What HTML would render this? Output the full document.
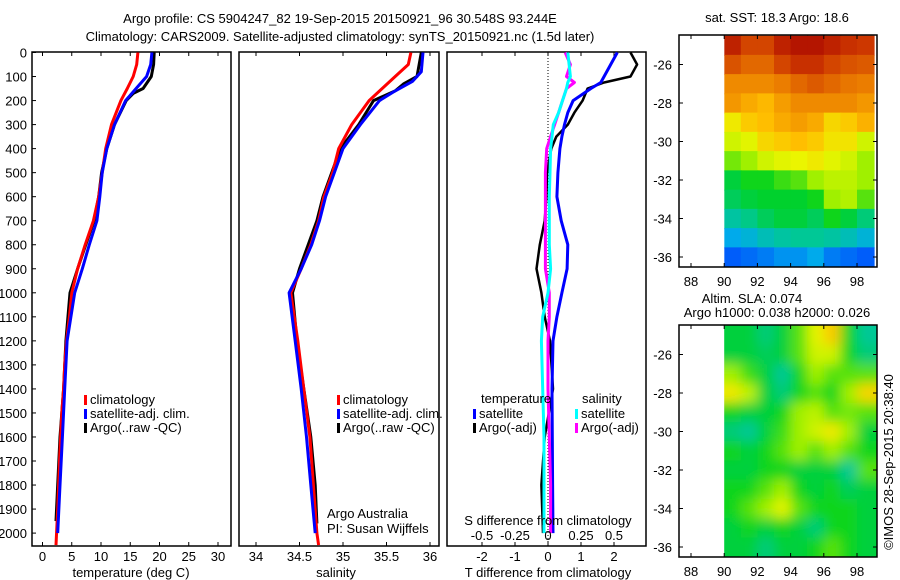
<!DOCTYPE html>
<html><head><meta charset="utf-8"><style>
body{margin:0;background:#fff;}
svg{display:block;font-family:"Liberation Sans",sans-serif;}
text{fill:#000;font-size:13px;}
</style></head><body>
<svg id="c" width="900" height="580" viewBox="0 0 900 580">
<text x="340" y="23" text-anchor="middle" font-size="14">Argo profile: CS 5904247_82 19-Sep-2015 20150921_96 30.548S 93.244E</text>
<text x="340" y="41" text-anchor="middle" font-size="14">Climatology: CARS2009. Satellite-adjusted climatology: synTS_20150921.nc (1.5d later)</text>
<g id="p1"></g>
<g id="p2"></g>
<g id="p3"></g>
<g id="m1"></g>
<g id="m2"></g>
<text x="777" y="22" text-anchor="middle" font-size="12">sat. SST: 18.3 Argo: 18.6</text>
<text x="752" y="303" text-anchor="middle" font-size="12">Altim. SLA: 0.074</text>
<text x="777" y="317" text-anchor="middle" font-size="12">Argo h1000: 0.038 h2000: 0.026</text>
<text transform="translate(893,462) rotate(-90)" text-anchor="middle" font-size="12">©IMOS 28-Sep-2015 20:38:40</text>
</svg>
<script>
// ---- profile data (depth in m) ----
const depthT_clim=[0,50,100,150,200,300,400,500,600,700,800,900,1000,1100,1200,1300,1400,1500,1700,1900,2050];
const temp_clim=[16.3,16.1,15.5,14.5,13.4,11.8,10.8,10.2,9.6,8.7,7.3,6.0,5.0,4.6,4.1,3.8,3.6,3.3,2.9,2.6,2.3];
const depthT_sat=[0,50,100,150,200,300,400,500,600,700,800,900,1000,1200,1400,1600,1800,2000];
const temp_sat=[18.7,18.5,17.8,16.0,14.2,12.3,11.0,10.2,9.8,9.3,8.0,6.8,5.5,4.2,3.8,3.4,3.0,2.6];
const depthT_argo=[0,50,100,150,170,200,300,400,500,600,700,800,900,1000,1200,1400,1600,1800,1950];
const temp_argo=[19.1,19.0,18.6,17.2,15.5,14.3,12.3,11.0,10.1,9.6,8.8,7.4,6.0,4.7,4.0,3.6,3.0,2.6,2.3];
const depthS_clim=[0,50,100,150,200,300,400,500,600,700,800,900,1000,1200,1400,1600,1800,2000,2050];
const sal_clim=[35.78,35.75,35.6,35.45,35.3,35.1,34.95,34.88,34.78,34.72,34.63,34.52,34.4,34.48,34.55,34.62,34.66,34.7,34.72];
const depthS_sat=[0,80,120,160,200,300,400,500,600,700,800,900,1000,1200,1400,1600,1800,2000];
const sal_sat=[35.92,35.9,35.8,35.6,35.42,35.2,35.0,34.9,34.8,34.73,34.64,34.52,34.38,34.45,34.52,34.58,34.63,34.68];
const depthS_argo=[0,100,130,160,200,300,400,500,600,700,800,900,1000,1200,1400,1600,1800,1960];
const sal_argo=[35.9,35.85,35.7,35.6,35.35,35.18,34.97,34.87,34.77,34.7,34.6,34.5,34.42,34.47,34.55,34.63,34.68,34.7];
// differences
const depthD=[0,50,100,125,150,200,250,300,350,400,500,600,700,800,900,1000,1100,1200,1400,1600,1800,2000];
const dT_sat=[2.1,1.9,1.7,1.6,1.3,0.76,0.6,0.5,0.42,0.36,0.3,0.27,0.4,0.6,0.58,0.42,0.27,0.15,0.12,0.13,0.14,0.15];
const dT_argo=[2.5,2.7,2.5,1.7,1.2,1.05,0.8,0.6,0.25,0.1,-0.03,-0.05,-0.1,-0.25,-0.35,-0.2,-0.1,0.06,0.15,-0.1,-0.2,-0.15];
const dS_sat=[0.15,0.16,0.17,0.15,0.14,0.11,0.08,0.04,0.03,0.02,0.015,0.01,0.01,0.01,0.02,0,-0.04,-0.05,-0.04,-0.03,-0.03,-0.03];
const dS_argo=[0.13,0.17,0.14,0.2,0.14,0.11,0.08,0.05,0.02,-0.01,-0.02,-0.02,-0.02,-0.02,-0.02,0.01,0.01,0.0,0.0,0.01,0.02,0.02];
const depthTicks=[0,100,200,300,400,500,600,700,800,900,1000,1100,1200,1300,1400,1500,1600,1700,1800,1900,2000];
const tempTicks=[0,5,10,15,20,25,30];
const salTicks=[34,34.5,35,35.5,36];
const dTTicks=[-2,-1,0,1,2];
const dSTicks=[-0.5,-0.25,0,0.25,0.5];
const dSTickLabels=["-0.5","-0.25","0","0.25","0.5"];
// ---- map data: rows = lat -25..-36 (1 deg), cols = lon 90.5..98.5 ----
const mapLats=[-25,-26,-27,-28,-29,-30,-31,-32,-33,-34,-35,-36];
const mapLons=[90.5,91.5,92.5,93.5,94.5,95.5,96.5,97.5,98.5];
const sstGrid=[
[0.95,0.9,0.9,0.95,0.97,0.97,0.95,0.93,0.92],
[0.88,0.85,0.85,0.9,0.93,0.93,0.9,0.88,0.87],
[0.8,0.8,0.8,0.82,0.85,0.87,0.85,0.83,0.82],
[0.78,0.75,0.73,0.77,0.8,0.8,0.8,0.8,0.78],
[0.65,0.7,0.72,0.75,0.77,0.75,0.68,0.7,0.74],
[0.6,0.62,0.68,0.7,0.72,0.7,0.66,0.66,0.6],
[0.52,0.55,0.6,0.62,0.63,0.65,0.62,0.6,0.55],
[0.42,0.45,0.45,0.48,0.5,0.55,0.58,0.58,0.55],
[0.4,0.42,0.43,0.43,0.43,0.45,0.55,0.57,0.5],
[0.35,0.37,0.4,0.42,0.42,0.4,0.45,0.42,0.38],
[0.28,0.3,0.33,0.35,0.36,0.36,0.35,0.33,0.3],
[0.18,0.2,0.22,0.25,0.25,0.28,0.22,0.2,0.18]];
const slaGrid=[
[0.42,0.42,0.38,0.42,0.5,0.62,0.7,0.45,0.36],
[0.42,0.42,0.40,0.42,0.5,0.6,0.6,0.45,0.38],
[0.55,0.48,0.42,0.36,0.45,0.55,0.5,0.5,0.5],
[0.65,0.58,0.42,0.38,0.45,0.5,0.45,0.55,0.68],
[0.45,0.42,0.42,0.45,0.55,0.58,0.5,0.52,0.5],
[0.38,0.36,0.42,0.48,0.55,0.6,0.65,0.55,0.42],
[0.45,0.42,0.45,0.5,0.55,0.5,0.55,0.5,0.45],
[0.42,0.42,0.45,0.45,0.42,0.42,0.42,0.36,0.5],
[0.45,0.45,0.5,0.55,0.45,0.42,0.45,0.4,0.42],
[0.45,0.5,0.55,0.62,0.5,0.45,0.45,0.45,0.42],
[0.42,0.45,0.42,0.45,0.42,0.38,0.45,0.45,0.42],
[0.42,0.42,0.38,0.42,0.42,0.45,0.5,0.45,0.42]];
const latTicks=[-26,-28,-30,-32,-34,-36];
const lonTicks=[88,90,92,94,96,98];

const NS="http://www.w3.org/2000/svg";
function mk(parent,tag,attrs,txt){const e=document.createElementNS(NS,tag);for(const k in attrs)e.setAttribute(k,attrs[k]);if(txt!==undefined)e.textContent=txt;parent.appendChild(e);return e;}
const yD=d=>52.5+d*0.2403;
const xT=v=>42.5+v*5.85;
const xS=v=>256+(v-34)*87;
const xDT=v=>548+v*33;
const xDS=v=>548+v*132;
function frame(g,x0,x1){mk(g,'rect',{x:x0,y:52,width:x1-x0,height:494,fill:'none',stroke:'#000','stroke-width':1.5});}
function line(g,xs,ds,sx,color,w,name){
  const pts=xs.map((v,i)=>sx(v).toFixed(1)+','+yD(ds[i]).toFixed(1)).join(' ');
  const p=mk(g,'polyline',{points:pts,fill:'none',stroke:color,'stroke-width':w,'stroke-linejoin':'round'});
  
  
}
function xticks(g,ticks,labels,sx,ylab){
  ticks.forEach((t,i)=>{const x=sx(t);
    mk(g,'line',{x1:x,x2:x,y1:52,y2:56,stroke:'#000'});
    mk(g,'line',{x1:x,x2:x,y1:546,y2:542,stroke:'#000'});
    if(ylab){const tx=mk(g,'text',{x:x,y:ylab,'text-anchor':'middle'},labels[i]);
      
      }
  });
}
function legend(g,x,y,items){
  items.forEach((it,i)=>{mk(g,'rect',{x:x,y:y+i*14-9,width:3,height:10,fill:it[0]});
    const t=mk(g,'text',{x:x+6,y:y+i*14},it[1]);
    
    });
}
// panel 1
const p1=document.getElementById('p1');
frame(p1,32,231);
depthTicks.forEach(d=>{const y=yD(d);mk(p1,'line',{x1:32,x2:36,y1:y,y2:y,stroke:'#000'});
  const t=mk(p1,'text',{x:27,y:y+5,'text-anchor':'end'},String(d));
  
  });
xticks(p1,tempTicks,tempTicks.map(String),xT,561);
mk(p1,'text',{x:131,y:577,'text-anchor':'middle'},'temperature (deg C)');
line(p1,temp_argo,depthT_argo,xT,'#000',3,'argo-temperature');
line(p1,temp_clim,depthT_clim,xT,'#f00',3,'clim-temperature');
line(p1,temp_sat,depthT_sat,xT,'#00f',3,'satadj-temperature');
legend(p1,84,404,[['#f00','climatology'],['#00f','satellite-adj. clim.'],['#000','Argo(..raw -QC)']]);
// panel 2
const p2=document.getElementById('p2');
frame(p2,239,439);
xticks(p2,salTicks,["34","34.5","35","35.5","36"],xS,561);
mk(p2,'text',{x:336,y:577,'text-anchor':'middle'},'salinity');
line(p2,sal_argo,depthS_argo,xS,'#000',3,'argo-salinity');
line(p2,sal_clim,depthS_clim,xS,'#f00',3,'clim-salinity');
line(p2,sal_sat,depthS_sat,xS,'#00f',3,'satadj-salinity');
legend(p2,337,404,[['#f00','climatology'],['#00f','satellite-adj. clim.'],['#000','Argo(..raw -QC)']]);
mk(p2,'text',{x:327,y:518},'Argo Australia');
mk(p2,'text',{x:327,y:533},'PI: Susan Wijffels');
// panel 3
const p3=document.getElementById('p3');
frame(p3,447,646);
xticks(p3,dTTicks,dTTicks.map(String),xDT,561);
mk(p3,'line',{x1:548,x2:548,y1:52,y2:546,stroke:'#000','stroke-dasharray':'1,2'});
line(p3,dT_argo,depthD,xDT,'#000',2.5,'argo-t-diff');
line(p3,dT_sat,depthD,xDT,'#00f',3,'sat-t-diff');
line(p3,dS_argo,depthD,xDS,'#f0f',3,'argo-s-diff');
line(p3,dS_sat,depthD,xDS,'#0ff',3,'sat-s-diff');
dSTicks.forEach((t,i)=>{const tx=mk(p3,'text',{x:xDS(t),y:540,'text-anchor':'middle'},dSTickLabels[i]);
  
  });
mk(p3,'text',{x:548,y:525,'text-anchor':'middle'},'S difference from climatology');
mk(p3,'text',{x:548,y:577,'text-anchor':'middle'},'T difference from climatology');
mk(p3,'text',{x:481,y:403},'temperature');
mk(p3,'text',{x:582,y:403},'salinity');
legend(p3,473,418,[['#00f','satellite'],['#000','Argo(-adj)']]);
legend(p3,575,418,[['#0ff','satellite'],['#f0f','Argo(-adj)']]);
// maps
const stops=[[0,[0,0,170]],[0.15,[0,70,255]],[0.28,[0,170,235]],[0.36,[0,200,150]],[0.44,[0,210,30]],[0.55,[160,240,0]],[0.63,[235,245,0]],[0.72,[255,190,0]],[0.82,[235,125,0]],[0.92,[205,55,0]],[1,[165,0,0]]];
function cmap(v){for(let i=1;i<stops.length;i++){if(v<=stops[i][0]){const a=stops[i-1],b=stops[i],f=(v-a[0])/(b[0]-a[0]);return 'rgb('+a[1].map((c,k)=>Math.round(c+(b[1][k]-c)*f)).join(',')+')';}}return 'rgb(165,0,0)';}
function drawMap(id,top,grid,blur){
  const g=document.getElementById(id);
  const bottom=top+232;
  const xL=v=>691+(v-88)*16.6;
  const yL=v=>top+29.5+(-26-v)*19.25;
  const clipId=id+'clip';
  const defs=mk(g,'defs',{});
  const cp=mk(defs,'clipPath',{id:clipId});
  mk(cp,'rect',{x:xL(90),y:top,width:877-xL(90),height:bottom-top});
  if(blur){const f=mk(defs,'filter',{id:id+'blur',x:'-10%',y:'-10%',width:'120%',height:'120%'});mk(f,'feGaussianBlur',{stdDeviation:6});}
  const cells=mk(g,'g',{'clip-path':'url(#'+clipId+')'});
  const inner=mk(cells,'g',blur?{filter:'url(#'+id+'blur)'}:{});
  grid.forEach((row,r)=>row.forEach((v,c)=>{
    const lat=mapLats[r],lon=mapLons[c];
    const rc=mk(inner,'rect',{x:xL(lon-0.5)-(c==0&&blur?20:0),y:yL(lat+0.5)-(r==0&&blur?20:0),width:16.6+1+(c==0||c==8?(blur?20:0):0),height:19.25+1+(r==0||r==11?(blur?20:0):0),fill:cmap(v)});
    
    
  }));
  mk(g,'rect',{x:679,y:top,width:198,height:bottom-top,fill:'none',stroke:'#000','stroke-width':1.5});
  latTicks.forEach(l=>{const y=yL(l);mk(g,'line',{x1:679,x2:683,y1:y,y2:y,stroke:'#000'});mk(g,'line',{x1:877,x2:873,y1:y,y2:y,stroke:'#000'});
    const t=mk(g,'text',{x:672,y:y+5,'text-anchor':'end'},String(l));
    
    });
  lonTicks.forEach(l=>{const x=xL(l);mk(g,'line',{x1:x,x2:x,y1:top,y2:top+4,stroke:'#000'});mk(g,'line',{x1:x,x2:x,y1:bottom,y2:bottom-4,stroke:'#000'});
    const t=mk(g,'text',{x:x,y:bottom+19,'text-anchor':'middle'},String(l));
    
    });
}
drawMap('m1',35,sstGrid,false);
drawMap('m2',325,slaGrid,true);
</script>
</body></html>
